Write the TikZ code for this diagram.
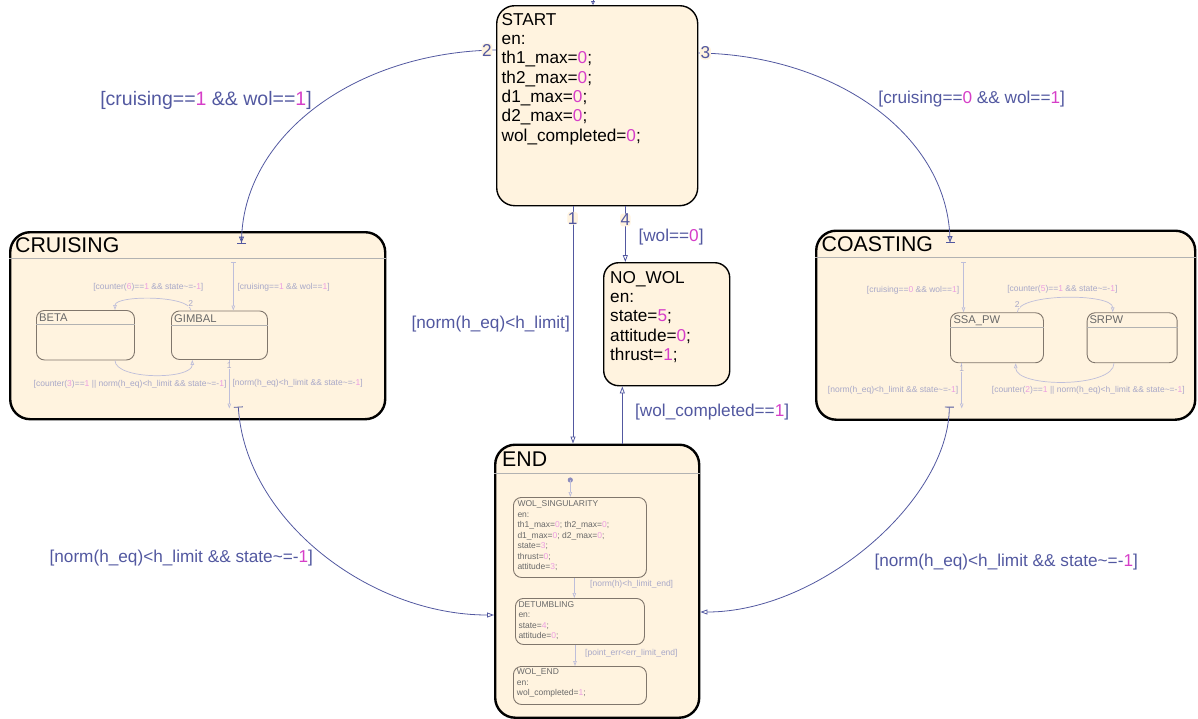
\documentclass[tikz,border=0pt]{standalone}
\usepackage{fontspec}
\setmainfont{Liberation Sans}
\usetikzlibrary{arrows.meta}

\definecolor{cream}{RGB}{255,243,223}
\definecolor{trans}{RGB}{82,88,160}
\definecolor{numc}{RGB}{214,62,200}
\definecolor{fadeline}{RGB}{190,190,218}
\definecolor{fadetext}{RGB}{168,168,200}
\definecolor{fadenum}{RGB}{236,158,226}
\definecolor{fadedot}{RGB}{140,140,190}
\definecolor{subedge}{RGB}{128,118,108}
\definecolor{subtext}{RGB}{105,105,105}

\newcommand{\nm}[1]{\textcolor{numc}{#1}}
\newcommand{\nf}[1]{\textcolor{fadenum}{#1}}
\newcommand{\fBody}{\fontsize{17.2}{19.3}\selectfont}
\newcommand{\fBig}{\fontsize{19.5}{22}\selectfont}
\newcommand{\fTitle}{\fontsize{21.3}{24}\selectfont}
\newcommand{\fSub}{\fontsize{11.2}{13}\selectfont}
\newcommand{\fTiny}{\fontsize{8.5}{10.5}\selectfont}

\begin{document}
\begin{tikzpicture}[x=1pt, y=-1pt,
    superstate/.style={draw, line width=2.4pt, rounded corners=20pt, fill=cream, anchor=north west, inner sep=0pt},
    topstate/.style={draw, line width=1.4pt, rounded corners=18pt, fill=cream, anchor=north west, inner sep=0pt},
    substate/.style={draw=subedge, line width=0.9pt, rounded corners=8pt, anchor=north west, inner sep=0pt},
    divider/.style={draw=black!30, line width=0.6pt},
    txt/.style={anchor=north west, align=left, inner sep=0pt},
    tr/.style={draw=trans, line width=0.8pt, -{Triangle[open, length=7pt, width=5pt]}},
    ftr/.style={draw=fadeline, line width=0.7pt, -{Triangle[open, length=5pt, width=3.5pt]}},
    guard/.style={text=trans, font=\fBody, inner sep=0pt},
    fguard/.style={text=fadetext, font=\fTiny, inner sep=0pt},
    tnum/.style={text=trans, font=\fBody, fill=cream, inner sep=0.5pt, rounded corners=3pt},
    fnum/.style={text=fadetext, font=\fTiny, fill=cream, inner sep=0.3pt}]

    \useasboundingbox (0,0) rectangle (1198,718);

    % Top level states
    \node[topstate, minimum width=201pt, minimum height=200pt] (startS) at (496,5) {};
    \node[topstate, rounded corners=15pt, minimum width=126pt, minimum height=123pt] (noWol) at (603,262) {};
    \node[superstate, minimum width=375pt, minimum height=187pt] (cruising) at (9,231) {};
    \node[superstate, minimum width=379pt, minimum height=189pt] (coasting) at (815,229.5) {};
    \node[superstate, minimum width=204pt, minimum height=273pt] (endS) at (494,443.5) {};

    % Header lines
    \draw[divider] (cruising.west |- 0,258) -- (cruising.east |- 0,258);
    \draw[divider] (coasting.west |- 0,257) -- (coasting.east |- 0,257);
    \draw[divider] (endS.west |- 0,473) -- (endS.east |- 0,473);

    % State texts
    \node[txt, font=\fBody] (startTxt) at (501.5,13) {START\\en:\\th1\_max=\nm{0};\\th2\_max=\nm{0};\\d1\_max=\nm{0};\\d2\_max=\nm{0};\\wol\_completed=\nm{0};};
    \node[txt, font=\fBody] (noWolTxt) at (610,271) {NO\_WOL\\en:\\state=\nm{5};\\attitude=\nm{0};\\thrust=\nm{1};};
    \node[txt, font=\fTitle] (cruisingT) at (15,237.5) {CRUISING};
    \node[txt, font=\fTitle] (coastingT) at (821.5,236) {COASTING};
    \node[txt, font=\fTitle] (endT) at (502,451.5) {END};

    % Substates of CRUISING
    \node[substate, minimum width=98pt, minimum height=49.5pt] (beta) at (36,310) {};
    \node[substate, minimum width=96pt, minimum height=48.5pt] (gimbal) at (171,310.5) {};
    \draw[divider] (beta.west |- 0,324.5) -- (beta.east |- 0,324.5);
    \draw[divider] (gimbal.west |- 0,325) -- (gimbal.east |- 0,325);
    \node[txt, font=\fSub, text=subtext] (betaT) at (39,313.7) {BETA};
    \node[txt, font=\fSub, text=subtext] (gimbalT) at (174,314.3) {GIMBAL};

    % Substates of COASTING
    \node[substate, minimum width=93pt, minimum height=50pt] (ssapw) at (950,312.3) {};
    \node[substate, minimum width=90pt, minimum height=50pt] (srpw) at (1086.7,312.3) {};
    \draw[divider] (ssapw.west |- 0,327.3) -- (ssapw.east |- 0,327.3);
    \draw[divider] (srpw.west |- 0,327.3) -- (srpw.east |- 0,327.3);
    \node[txt, font=\fSub, text=subtext] (ssapwT) at (953.3,315.7) {SSA\_PW};
    \node[txt, font=\fSub, text=subtext] (srpwT) at (1089.3,315.7) {SRPW};

    % Substates of END
    \node[substate, minimum width=133pt, minimum height=80pt] (wolSing) at (513,497) {};
    \node[substate, minimum width=129pt, minimum height=46pt] (detumb) at (515,598) {};
    \node[substate, minimum width=133pt, minimum height=38pt] (wolEnd) at (513,666) {};
    \node[txt, font=\fTiny, text=subtext] (wolSingTxt) at (517.3,500.7) {WOL\_SINGULARITY\\en:\\th1\_max=\nf{0}; th2\_max=\nf{0};\\d1\_max=\nf{0}; d2\_max=\nf{0};\\state=\nf{3};\\thrust=\nf{0};\\attitude=\nf{3};};
    \node[txt, font=\fTiny, text=subtext] (detumbTxt) at (518.3,601) {DETUMBLING\\en:\\state=\nf{4};\\attitude=\nf{0};};
    \node[txt, font=\fTiny, text=subtext] (wolEndTxt) at (516.7,668.7) {WOL\_END\\en:\\wol\_completed=\nf{1};};

    % Junction points
    \coordinate (startIn) at (593,-3);
    \coordinate (cruIn) at (241.5,243.5);
    \coordinate (coaIn) at (950,243);
    \coordinate (cruOut) at (238.3,406.7);
    \coordinate (coaOut) at (949.3,406.7);
    \coordinate (cruJoin) at (233.3,262.3);
    \coordinate (coaJoin) at (963.5,261.5);
    \coordinate (cruExit) at (229.3,408.5);
    \coordinate (coaExit) at (961.7,408.5);
    \coordinate (endDot) at (570.3,480);

    % Top level transitions
    \draw[tr, -{Triangle[open, length=4pt, width=4pt]}] (startIn) -- (startS.north -| startIn);
    \draw[tr, -{Triangle[open, length=6pt, width=5pt] Bar[width=9pt]}] (startS.west |- 0,50) .. controls (355,52) and (241.5,136) .. (cruIn);
    \draw[tr, -{Triangle[open, length=6pt, width=5pt] Bar[width=9pt]}] (startS.east |- 0,53) .. controls (837,55) and (950,137) .. (coaIn);
    \draw[tr] (startS.south -| 573,0) -- (endS.north -| 573,0);
    \draw[tr] (startS.south -| 625.3,0) -- (noWol.north -| 625.3,0);
    \draw[tr] (endS.north -| 622.3,0) -- (noWol.south -| 622.3,0);
    \draw[tr, {Bar[width=9pt]}-{Triangle[open, length=7pt, width=5pt]}] (cruOut) .. controls (245,520) and (370,615) .. (endS.west |- 0,615);
    \draw[tr, {Bar[width=9pt]}-{Triangle[open, length=7pt, width=5pt]}] (coaOut) .. controls (949,500) and (820,612) .. (endS.east |- 0,612);

    \node[tnum] (n2) at (487,50) {2};
    \node[tnum] (n3) at (705.5,53) {3};
    \node[tnum] (n1) at (572.7,218.3) {1};
    \node[tnum] (n4) at (625.3,220) {4};
    \node[guard, font=\fBig] (gCru) at (206,100) {[cruising==\nm{1} \&\& wol==\nm{1}]};
    \node[guard] (gCoa) at (971.7,99) {[cruising==\nm{0} \&\& wol==\nm{1}]};
    \node[guard, anchor=east] (gNorm) at (570,324) {[norm(h\_eq)<h\_limit]};
    \node[guard, anchor=west] (gWol) at (638.3,237.5) {[wol==\nm{0}]};
    \node[guard, anchor=west] (gDone) at (635,412.3) {[wol\_completed==\nm{1}]};
    \node[guard] (gCruOut) at (181.3,558.3) {[norm(h\_eq)<h\_limit \&\& state\textasciitilde=-\nm{1}]};
    \node[guard, anchor=west] (gCoaOut) at (874.3,561.7) {[norm(h\_eq)<h\_limit \&\& state\textasciitilde=-\nm{1}]};

    % Transitions inside CRUISING
    \draw[ftr, {Bar[width=5pt]}-{Triangle[open, length=5pt, width=3.5pt]}] (cruJoin) -- (gimbal.north -| cruJoin);
    \draw[ftr] (gimbal.north -| 190.7,0) .. controls (190.7,295) and (115,295) .. (beta.north -| 115,0);
    \draw[ftr] (beta.south -| 115,0) .. controls (115,380) and (192.3,380) .. (gimbal.south -| 192.3,0);
    \draw[ftr] (gimbal.south -| 229.3,0) -- (cruExit);
    \node[fnum] (c2) at (190.7,304) {2};
    \node[fnum] (c1) at (229.3,366) {1};
    \node[fguard] (gC6) at (148.3,287.3) {[counter(\nf{6})==\nf{1} \&\& state\textasciitilde=-\nf{1}]};
    \node[fguard, anchor=west] (gC3) at (33.5,384) {[counter(\nf{3})==\nf{1} || norm(h\_eq)<h\_limit \&\& state\textasciitilde=-\nf{1}]};
    \node[fguard, anchor=west] (gCIn) at (237.3,287.3) {[cruising==\nf{1} \&\& wol==\nf{1}]};
    \node[fguard, anchor=west] (gCOut) at (232.3,383.3) {[norm(h\_eq)<h\_limit \&\& state\textasciitilde=-\nf{1}]};

    % Transitions inside COASTING
    \draw[ftr, {Bar[width=5pt]}-{Triangle[open, length=5pt, width=3.5pt]}] (coaJoin) -- (ssapw.north -| coaJoin);
    \draw[ftr] (ssapw.north -| 1017.3,0) .. controls (1017.3,293) and (1112.7,293) .. (srpw.north -| 1112.7,0);
    \draw[ftr] (srpw.south -| 1114,0) .. controls (1114,388) and (1015.7,388) .. (ssapw.south -| 1015.7,0);
    \draw[ftr] (ssapw.south -| 961.7,0) -- (coaExit);
    \node[fnum] (s2) at (1017.3,305) {2};
    \node[fnum] (s1) at (961.7,369) {1};
    \node[fguard, anchor=east] (gSIn) at (959.3,290) {[cruising==\nf{0} \&\& wol==\nf{1}]};
    \node[fguard] (gS5) at (1062.3,289) {[counter(\nf{5})==\nf{1} \&\& state\textasciitilde=-\nf{1}]};
    \node[fguard, anchor=west] (gS2) at (991.7,390.7) {[counter(\nf{2})==\nf{1} || norm(h\_eq)<h\_limit \&\& state\textasciitilde=-\nf{1}]};
    \node[fguard, anchor=east] (gSOut) at (958.3,390) {[norm(h\_eq)<h\_limit \&\& state\textasciitilde=-\nf{1}]};

    % Transitions inside END
    \fill[fadedot] (endDot) circle (2.6pt);
    \draw[ftr] (endDot) -- (wolSing.north -| endDot);
    \draw[ftr] (wolSing.south -| 574.3,0) -- (detumb.north -| 574.3,0);
    \draw[ftr] (detumb.south -| 575,0) -- (wolEnd.north -| 575,0);
    \node[fguard, anchor=west] (gEnd1) at (590,584.3) {[norm(h)<h\_limit\_end]};
    \node[fguard, anchor=west] (gEnd2) at (585,653.7) {[point\_err<err\_limit\_end]};
\end{tikzpicture}
\end{document}
